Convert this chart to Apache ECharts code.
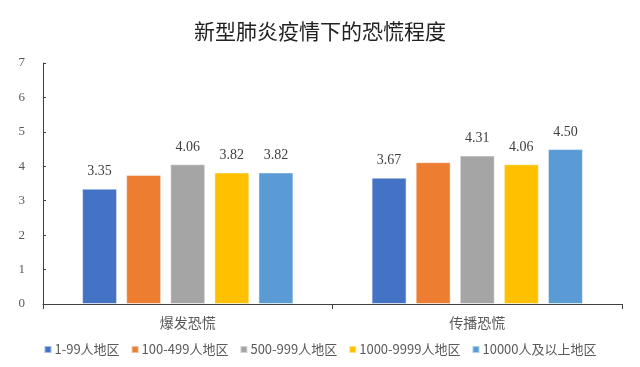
<!DOCTYPE html>
<html><head><meta charset="utf-8">
<script src="https://cdn.jsdelivr.net/npm/echarts@6/dist/echarts.min.js"></script>
<style>html,body{margin:0;padding:0;background:#fff}#c{width:640px;height:367px}</style>
</head><body><div id="c"></div>
<script>
const categories = ['爆发恐慌', '传播恐慌'];
const seriesNames = ['1-99人地区', '100-499人地区', '500-999人地区', '1000-9999人地区', '10000人及以上地区'];
const s1 = [3.35, 3.67];
const s2 = [3.75, 4.12];
const s3 = [4.06, 4.31];
const s4 = [3.82, 4.06];
const s5 = [3.82, 4.50];
const showLabel = [true, false, true, true, true];
const colors = ['#4472C4', '#ED7D31', '#A5A5A5', '#FFC000', '#5B9BD5'];
const yTicks = [0, 1, 2, 3, 4, 5, 6, 7];

const chart = echarts.init(document.getElementById('c'), null, {renderer: 'canvas'});
const data = [s1, s2, s3, s4, s5];
chart.setOption({
  animation: false,
  title: {
    text: '新型肺炎疫情下的恐慌程度', left: 'center', top: 16,
    textStyle: {fontSize: 21, fontWeight: 'normal', color: '#222', fontFamily: 'Noto Sans CJK SC'}
  },
  legend: {
    bottom: 6, left: 'center', itemWidth: 7, itemHeight: 7, itemGap: 11,
    icon: 'rect',
    textStyle: {fontSize: 13, color: '#595959', fontFamily: 'Noto Sans CJK SC', padding: [0,0,0,-2]},
    data: seriesNames
  },
  grid: {left: 43, right: 18, top: 63, bottom: 63},
  xAxis: {
    type: 'category', data: categories,
    axisLine: {lineStyle: {color: '#404040', width: 1}},
    axisTick: {show: true, length: 5, lineStyle: {color: '#404040'}},
    axisLabel: {fontSize: 14, color: '#595959', margin: 12, fontFamily: 'Noto Sans CJK SC'}
  },
  yAxis: {
    type: 'value', min: 0, max: 7, interval: 1,
    axisLine: {show: true, lineStyle: {color: '#404040'}},
    axisTick: {show: true, inside: true, length: 3, lineStyle: {color: '#404040'}},
    splitLine: {show: false},
    axisLabel: {fontSize: 13, color: '#595959', margin: 18, fontFamily: 'Liberation Serif',
      formatter: v => yTicks.includes(v) ? String(v) : ''}
  },
  series: seriesNames.map((n, i) => ({
    name: n, type: 'bar', data: data[i],
    barGap: '26%', barCategoryGap: '27%',
    itemStyle: {color: colors[i], borderColor: 'rgba(255,255,255,0.5)', borderWidth: 1},
    label: {show: showLabel[i], position: 'top', distance: 10, fontSize: 14, color: '#404040',
      fontFamily: 'Liberation Serif', formatter: p => p.value.toFixed(2)}
  }))
});
</script></body></html>
